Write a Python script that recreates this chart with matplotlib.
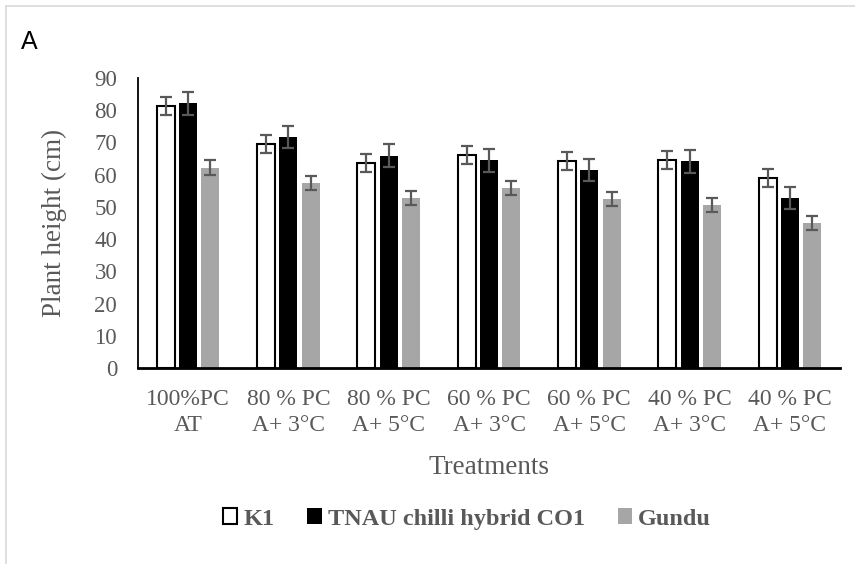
import numpy as np
import matplotlib
matplotlib.use("Agg")
import matplotlib.pyplot as plt
from matplotlib.lines import Line2D
from matplotlib.patches import Patch

treatments = ["100%PC\nAT", "80 % PC\nA+ 3°C", "80 % PC\nA+ 5°C", "60 % PC\nA+ 3°C",
              "60 % PC\nA+ 5°C", "40 % PC\nA+ 3°C", "40 % PC\nA+ 5°C"]
series = ["K1", "TNAU chilli hybrid CO1", "Gundu"]
k1 = [81.3, 69.4, 63.6, 66.0, 64.1, 64.7, 59.0]
co1 = [82.1, 71.7, 65.9, 64.4, 61.5, 64.1, 52.8]
gundu = [62.2, 57.5, 52.7, 55.8, 52.4, 50.5, 44.9]
k1_err = [2.8, 2.8, 2.8, 2.8, 2.8, 2.8, 2.8]
co1_err = [3.5, 3.5, 3.5, 3.5, 3.5, 3.5, 3.5]
gundu_err = [2.2, 2.2, 2.2, 2.2, 2.2, 2.2, 2.2]

SERIF = "Liberation Serif"
TXT = "#595959"
GRAY = "#A6A6A6"

fig = plt.figure(figsize=(8.55, 5.64), dpi=100)
ax = fig.add_axes([0.1614, 0.3475, 0.8211, 0.5142])

x = np.arange(len(treatments))
step, w = 0.222, 0.18
err_kw = dict(ecolor="#595959", elinewidth=1.6, capsize=4, capthick=1.6)
ax.bar(x - step, k1, width=w, color="white", edgecolor="black", linewidth=1.5,
       yerr=k1_err, error_kw=err_kw, label=series[0])
ax.bar(x, co1, width=w, color="black", yerr=co1_err, error_kw=err_kw, label=series[1])
ax.bar(x + step, gundu, width=w, color=GRAY, yerr=gundu_err, error_kw=err_kw, label=series[2])

ax.set_xlim(-0.5, len(treatments) - 0.5)
ax.set_ylim(0, 90)
ax.set_yticks(range(0, 91, 10))
ax.set_xticks(x)
ax.set_xticklabels(treatments, linespacing=1.3)
for sp in ("top", "right"):
    ax.spines[sp].set_visible(False)
ax.spines["left"].set_linewidth(1.3)
ax.spines["bottom"].set_linewidth(2.0)
ax.tick_params(axis="y", length=0, pad=15, labelsize=16.5, labelcolor=TXT)
ax.tick_params(axis="x", length=0, pad=15, labelsize=17, labelcolor=TXT)
for lab in ax.get_xticklabels() + ax.get_yticklabels():
    lab.set_family(SERIF)

ax.set_ylabel("Plant height (cm)", family=SERIF, fontsize=19.5, color=TXT, labelpad=20)
ax.set_xlabel("Treatments", family=SERIF, fontsize=19.5, color=TXT, labelpad=14)

handles = [Patch(facecolor="white", edgecolor="black", linewidth=1.5),
           Patch(facecolor="black"), Patch(facecolor=GRAY)]
fig.legend(handles, series, loc="center", bbox_to_anchor=(0.546, 0.08), ncol=3,
           frameon=False, handlelength=0.6, handleheight=0.6, handletextpad=0.25,
           columnspacing=1.35, prop=dict(family=SERIF, weight="bold", size=17.5),
           labelcolor=TXT)

fig.text(0.024, 0.925, "A", family=["Liberation Sans Narrow", "Liberation Sans"],
         fontsize=18, va="center", ha="left", color="black")

# light frame around the panel
fig.add_artist(Line2D([6 / 855, 6 / 855], [0, 1 - 6 / 564], color="#D9D9D9", lw=1.2))
fig.add_artist(Line2D([6 / 855, 1], [1 - 6 / 564, 1 - 6 / 564], color="#D9D9D9", lw=1.2))

fig.savefig("out.png", dpi=100)
